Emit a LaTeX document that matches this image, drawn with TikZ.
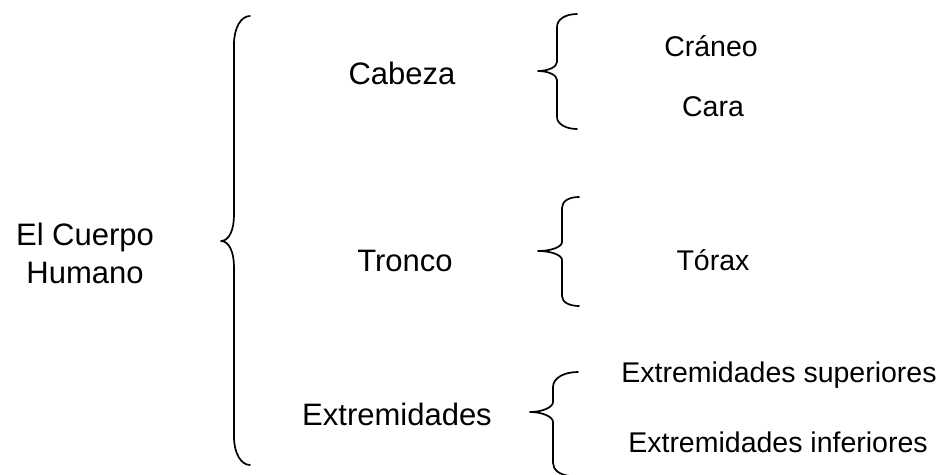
\documentclass[tikz,border=0pt]{standalone}
\usepackage{fontspec}
\setmainfont{Liberation Sans}
\begin{document}
\begin{tikzpicture}[x=1pt,y=-1pt,
  mainlbl/.style={anchor=base,inner sep=0pt,font=\fontsize{31}{37}\selectfont},
  sublbl/.style={anchor=base,inner sep=0pt,font=\fontsize{28.5}{34}\selectfont},
  bracepath/.style={line width=1.7pt,line cap=round,line join=round}]
\useasboundingbox[fill=white] (0,0) rectangle (950,474);
% labels
\node[mainlbl] (cuerpoA) at (85,245) {El Cuerpo};
\node[mainlbl] (cuerpoB) at (85,283) {Humano};
\node[mainlbl] (cabeza) at (402,84) {Cabeza};
\node[mainlbl] (tronco) at (405,271) {Tronco};
\node[mainlbl] (extrem) at (397,425) {Extremidades};
\node[sublbl] (craneo) at (711,56) {Cráneo};
\node[sublbl] (cara) at (713,116) {Cara};
\node[sublbl] (torax) at (713,270) {Tórax};
\node[sublbl] (esup) at (779,382) {Extremidades superiores};
\node[sublbl] (einf) at (778,452) {Extremidades inferiores};
% big brace
\draw[bracepath] (250,16) .. controls (241,16) and (234,28) .. (234,44) -- (234,215)
  .. controls (234,230) and (229,241) .. (221,241) .. controls (229,241) and (234,252) .. (234,267)
  -- (234,437) .. controls (234,453) and (241,465) .. (250,465);
% brace cabeza
\draw[bracepath] (577,14) .. controls (566,14) and (557,19) .. (557,27) -- (557,62)
  .. controls (557,67) and (548,71) .. (538,71) .. controls (548,71) and (557,75) .. (557,80)
  -- (557,117) .. controls (557,124) and (566,129) .. (577,129);
% brace tronco
\draw[bracepath] (579,197) .. controls (569,197) and (562,201) .. (562,208) -- (562,242)
  .. controls (562,247) and (551,251) .. (538,251) .. controls (551,251) and (562,255) .. (562,260)
  -- (562,296) .. controls (562,302) and (569,306) .. (579,306);
% brace extremidades
\draw[bracepath] (578,372) .. controls (564,372) and (553,378) .. (553,387) -- (553,402)
  .. controls (553,407) and (543,412) .. (530,412) .. controls (543,412) and (553,417) .. (553,422)
  -- (553,463) .. controls (553,470) and (560,475) .. (570,476);
\end{tikzpicture}
\end{document}
